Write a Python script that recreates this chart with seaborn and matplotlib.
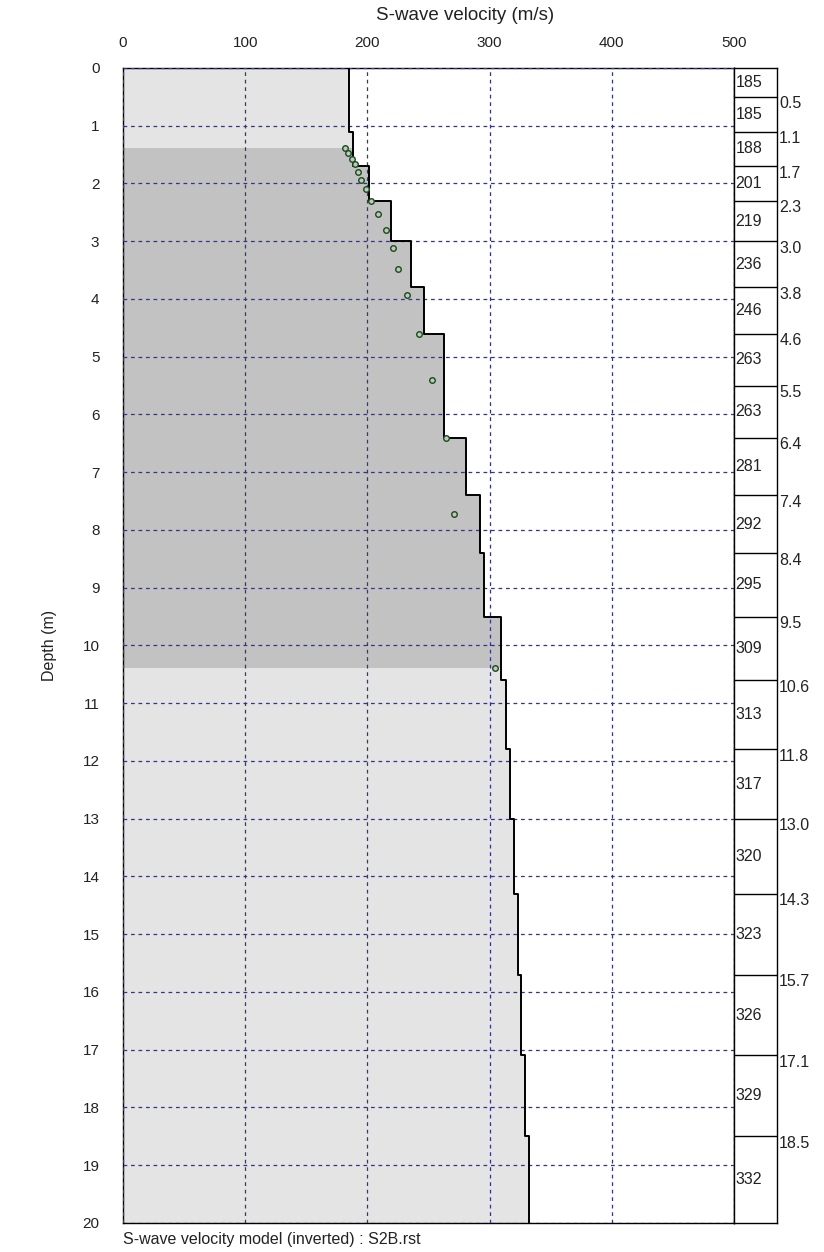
import numpy as np
import pandas as pd
import seaborn as sns
import matplotlib.pyplot as plt

# capas del modelo invertido (profundidad de los limites y velocidad de cada capa)
limites = [0.5, 1.1, 1.7, 2.3, 3.0, 3.8, 4.6, 5.5, 6.4, 7.4, 8.4, 9.5,
           10.6, 11.8, 13.0, 14.3, 15.7, 17.1, 18.5]
velocidades = [185, 185, 188, 201, 219, 236, 246, 263, 263, 281, 292, 295,
               309, 313, 317, 320, 323, 326, 329, 332]
prof_max = 20

# puntos observados (profundidad, velocidad)
obs_prof = [1.39, 1.47, 1.58, 1.67, 1.80, 1.94, 2.10, 2.30, 2.52, 2.81,
            3.12, 3.48, 3.93, 4.61, 5.40, 6.41, 7.73, 10.39]
obs_vel = [182, 184, 187, 190, 192, 195, 199, 203, 209, 215,
           221, 225, 232, 242, 253, 264, 271, 304]

sns.set_style("white")
plt.rcParams["font.family"] = ["Liberation Sans", "DejaVu Sans"]

# perfil escalonado
bordes = np.array([0] + limites + [prof_max])
perfil = pd.DataFrame({
    "prof": np.column_stack([bordes[:-1], bordes[1:]]).ravel(),
    "vel": np.repeat(velocidades, 2),
})
puntos = pd.DataFrame({"prof": obs_prof, "vel": obs_vel})

fig = plt.figure(figsize=(8.24, 12.52), dpi=100)
ax = fig.add_axes([0.1493, 0.0232, 0.7415, 0.9225])
caja = fig.add_axes([0.8908, 0.0232, 0.0522, 0.9225])

# relleno gris claro y gris oscuro (rango de los datos observados)
ax.fill_betweenx(perfil["prof"], 0, perfil["vel"], color="#e4e4e4", lw=0, zorder=0)
prof_recorte = np.clip(perfil["prof"], min(obs_prof), max(obs_prof))
ax.fill_betweenx(prof_recorte, 0, perfil["vel"], color="#c2c2c2", lw=0, zorder=0)

ax.grid(True, color="#34348a", linestyle=(0, (3, 3)), linewidth=0.9)
ax.set_axisbelow(False)

sns.lineplot(data=perfil, x="vel", y="prof", sort=False, estimator=None,
             color="black", linewidth=1.4, ax=ax, zorder=3)
sns.scatterplot(data=puntos, x="vel", y="prof", s=16, marker="o",
                facecolor="#b8ccb8", edgecolor="#1d4a1d", linewidth=1.0,
                ax=ax, zorder=4)

ax.set_xlim(0, 500)
ax.set_ylim(prof_max, 0)
ax.set_xticks(range(0, 501, 100))
ax.set_yticks(range(0, 21))
ax.xaxis.tick_top()
ax.tick_params(axis="x", length=0, pad=13, labelsize=11, labelcolor="#222222")
ax.tick_params(axis="y", length=0, pad=17, labelsize=11, labelcolor="#222222")
ax.set_xlabel("")
ax.set_ylabel("Depth (m)", fontsize=11.5, labelpad=18, color="#222222")
for s in ax.spines.values():
    s.set_color("black")
    s.set_linewidth(1.0)

# caja de la derecha con velocidades por capa
caja.set_xlim(0, 1)
caja.set_ylim(prof_max, 0)
caja.set_xticks([])
caja.set_yticks([])
for s in caja.spines.values():
    s.set_color("black")
    s.set_linewidth(1.0)
for b in limites:
    caja.axhline(b, color="black", linewidth=1.0)
    caja.text(1.05, b + 0.12, f"{b:.1f}", fontsize=11.5, va="center",
              ha="left", clip_on=False, color="#222222")
for top, bot, v in zip(bordes[:-1], bordes[1:], velocidades):
    caja.text(0.04, (top + bot) / 2, str(v), fontsize=11.5, va="center",
              ha="left", color="#222222")

fig.text(0.564, 0.988, "S-wave velocity (m/s)", fontsize=13.5, ha="center",
         va="center", color="#222222")
fig.text(0.1493, 0.0096, "S-wave velocity model (inverted) : S2B.rst",
         fontsize=11.5, ha="left", va="center", color="#222222")

plt.savefig("out.png", dpi=100)
